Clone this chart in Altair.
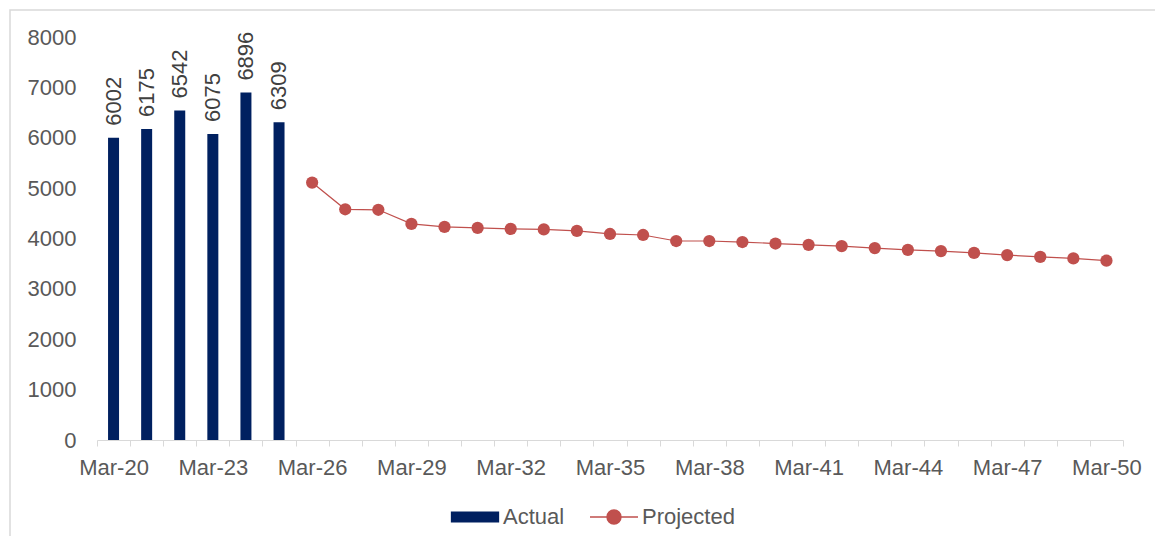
import altair as alt
import pandas as pd

periods = [f"Mar-{y}" for y in range(20, 51)]
actual_periods = periods[:6]
actual_values = [6002, 6175, 6542, 6075, 6896, 6309]
projected_periods = periods[6:]
projected_values = [5110, 4580, 4570, 4290, 4230, 4210, 4190, 4180, 4150, 4090,
                    4070, 3950, 3950, 3930, 3900, 3875, 3850, 3810, 3775, 3750,
                    3715, 3670, 3635, 3605, 3560]
series_names = ["Actual", "Projected"]
series_colors = ["#002060", "#C0504D"]
y_ticks = [0, 1000, 2000, 3000, 4000, 5000, 6000, 7000, 8000]

df_actual = pd.DataFrame({"period": actual_periods, "value": actual_values,
                          "series": "Actual"})
df_proj = pd.DataFrame({"period": projected_periods, "value": projected_values,
                        "series": "Projected"})

FONT = "Liberation Sans"
GRAY = "#595959"
FS = 22

rect_path = "M-1.95,-0.4H1.95V0.4H-1.95Z"
line_circle_path = ("M-2,0H2M0.58,0A0.58,0.58,0,1,1,-0.58,0"
                    "A0.58,0.58,0,1,1,0.58,0Z")

legend = alt.Legend(
    title=None, orient="none", legendX=365, legendY=467, direction="horizontal",
    symbolSize=576, labelOffset=15, columnPadding=22, labelFontSize=FS,
    labelFont=FONT, labelColor=GRAY, symbolStrokeWidth=1.5, padding=0,
)

x_enc = alt.X(
    "period:N", sort=periods,
    scale=alt.Scale(domain=periods, paddingInner=0, paddingOuter=0),
    axis=alt.Axis(
        title=None, labelAngle=0, tickBand="extent",
        labelExpr="(parseInt(substring(datum.value, 4)) % 3 == 2) ? datum.value : ''",
        labelOverlap=False, labelFlush=False, labelFontSize=FS, labelFont=FONT,
        labelColor=GRAY, domainColor="#D9D9D9", tickColor="#D9D9D9",
        tickSize=6, labelPadding=11, grid=False,
    ),
)
y_enc = alt.Y(
    "value:Q", scale=alt.Scale(domain=[0, 8000], nice=False),
    axis=alt.Axis(title=None, values=y_ticks, format="d", ticks=False, tickSize=0,
                  domain=False, grid=False, labelFontSize=FS, labelFont=FONT,
                  labelColor=GRAY, labelPadding=21),
)

color_scale = alt.Scale(domain=series_names, range=series_colors)
shape_scale = alt.Scale(domain=series_names, range=[rect_path, line_circle_path])

bars = alt.Chart(df_actual).mark_bar(size=11).encode(
    x=x_enc, y=y_enc,
    color=alt.Color("series:N", scale=color_scale, legend=legend),
)

bar_labels = alt.Chart(df_actual).mark_text(
    angle=270, align="left", baseline="middle", dx=12, fontSize=FS,
    font=FONT, color="#404040",
).encode(x=x_enc, y=y_enc, text=alt.Text("value:Q", format="d"))

line = alt.Chart(df_proj).mark_line(color="#C0504D", strokeWidth=1.2).encode(
    x=x_enc, y=y_enc,
)

points = alt.Chart(df_proj).mark_circle(size=150, opacity=1, color="#C0504D").encode(
    x=x_enc, y=y_enc,
)

# legend-only layer (no rows drawn), supplies the line+marker legend symbol
legend_layer = alt.Chart(df_proj).transform_filter("false").mark_point(
    filled=True, opacity=1
).encode(
    x=x_enc, y=y_enc,
    color=alt.Color("series:N", scale=color_scale, legend=legend),
    stroke=alt.Stroke("series:N", scale=color_scale, legend=legend),
    shape=alt.Shape("series:N", scale=shape_scale, legend=legend),
)

frame = alt.Chart(pd.DataFrame({"a": [0]})).mark_rect(
    fill=None, stroke="#D9D9D9", strokeWidth=1.5,
).encode(x=alt.value(-87), x2=alt.value(1300), y=alt.value(-27), y2=alt.value(700))

chart = alt.layer(frame, bars, bar_labels, line, points, legend_layer).properties(
    width=1026, height=403,
    autosize=alt.AutoSizeParams(type="none"),
    padding={"left": 89, "top": 29, "right": 32, "bottom": 96},
).configure_view(stroke=None)

chart.save("out.html", embed_options={"renderer": "svg", "actions": False})
